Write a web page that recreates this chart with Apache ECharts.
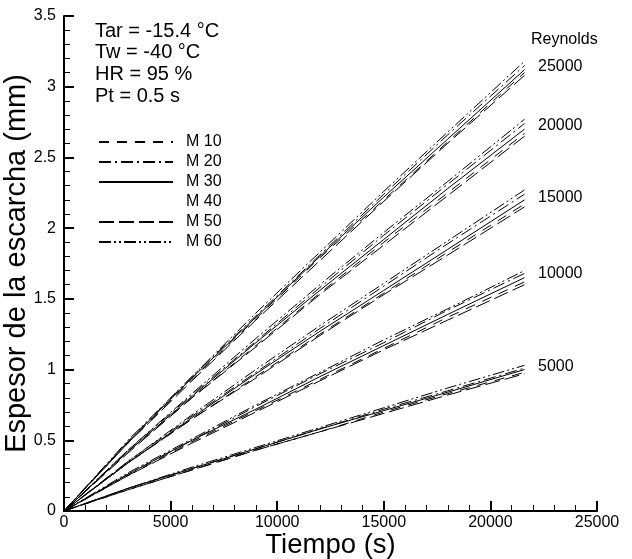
<!DOCTYPE html>
<html>
<head>
<meta charset="utf-8">
<script src="https://cdn.jsdelivr.net/npm/echarts@6/dist/echarts.min.js"></script>
<style>
  html, body { margin: 0; padding: 0; background: #fff; }
  #chart { width: 632px; height: 559px; }
</style>
</head>
<body>
<div id="chart"></div>
<script>
// Frost thickness (mm) versus time (s) for five Reynolds numbers and six M cases.
const times = [0, 3000, 6000, 9000, 12000, 15000, 18000, 21600];
const reynolds = ['5000', '10000', '15000', '20000', '25000'];
const mNames = ['M 10', 'M 20', 'M 30', 'M 40', 'M 50', 'M 60'];

// Each list holds one row per Reynolds number (5000 ... 25000).
const M10 = [
  [0, 0.15, 0.29, 0.43, 0.56, 0.70, 0.83, 0.98],
  [0, 0.25, 0.49, 0.71, 0.93, 1.15, 1.37, 1.62],
  [0, 0.34, 0.65, 0.95, 1.25, 1.54, 1.83, 2.17],
  [0, 0.42, 0.80, 1.17, 1.54, 1.90, 2.25, 2.67],
  [0, 0.48, 0.93, 1.36, 1.79, 2.20, 2.61, 3.10]
];
const M20 = [
  [0, 0.16, 0.30, 0.44, 0.58, 0.72, 0.85, 1.01],
  [0, 0.26, 0.50, 0.74, 0.97, 1.19, 1.42, 1.68],
  [0, 0.35, 0.67, 0.98, 1.29, 1.59, 1.89, 2.24],
  [0, 0.43, 0.82, 1.20, 1.58, 1.95, 2.31, 2.74],
  [0, 0.49, 0.95, 1.38, 1.81, 2.24, 2.66, 3.15]
];
const M30 = [
  [0, 0.16, 0.30, 0.44, 0.58, 0.71, 0.84, 1.00],
  [0, 0.26, 0.50, 0.72, 0.95, 1.17, 1.39, 1.65],
  [0, 0.34, 0.66, 0.97, 1.27, 1.56, 1.85, 2.20],
  [0, 0.42, 0.81, 1.19, 1.56, 1.92, 2.28, 2.70],
  [0, 0.49, 0.94, 1.37, 1.80, 2.22, 2.63, 3.12]
];
const M40 = [
  [0, 0.15, 0.30, 0.43, 0.57, 0.70, 0.83, 0.99],
  [0, 0.26, 0.49, 0.72, 0.94, 1.16, 1.38, 1.64],
  [0, 0.34, 0.66, 0.96, 1.26, 1.55, 1.85, 2.19],
  [0, 0.42, 0.81, 1.18, 1.55, 1.91, 2.27, 2.69],
  [0, 0.49, 0.93, 1.37, 1.79, 2.21, 2.62, 3.11]
];
const M50 = [
  [0, 0.15, 0.29, 0.43, 0.56, 0.69, 0.82, 0.97],
  [0, 0.25, 0.48, 0.70, 0.92, 1.14, 1.35, 1.60],
  [0, 0.34, 0.65, 0.94, 1.24, 1.53, 1.81, 2.15],
  [0, 0.41, 0.80, 1.16, 1.53, 1.88, 2.23, 2.65],
  [0, 0.48, 0.92, 1.35, 1.77, 2.19, 2.60, 3.08]
];
const M60 = [
  [0, 0.16, 0.31, 0.45, 0.59, 0.73, 0.87, 1.03],
  [0, 0.27, 0.51, 0.75, 0.98, 1.21, 1.43, 1.70],
  [0, 0.35, 0.68, 1.00, 1.31, 1.61, 1.91, 2.27],
  [0, 0.43, 0.83, 1.22, 1.60, 1.97, 2.33, 2.77],
  [0, 0.50, 0.95, 1.40, 1.83, 2.26, 2.68, 3.18]
];

const FONT = '"Liberation Sans", Arial, sans-serif';

// Dash pattern per case (M 40 carries no visible stroke)
const styles = {
  'M 10': { type: [10, 8], opacity: 1 },
  'M 20': { type: [12, 4, 2, 4], opacity: 1 },
  'M 30': { type: 'solid', opacity: 1 },
  'M 40': { type: 'solid', opacity: 0 },
  'M 50': { type: [15, 5], opacity: 1 },
  'M 60': { type: [12, 3, 2, 3, 2, 3], opacity: 1 }
};
const tables = { 'M 10': M10, 'M 20': M20, 'M 30': M30, 'M 40': M40, 'M 50': M50, 'M 60': M60 };

const series = [];
mNames.forEach(function (name) {
  tables[name].forEach(function (row) {
    series.push({
      type: 'line',
      name: name,
      data: row.map(function (v, i) { return [times[i], v]; }),
      symbol: 'none',
      showSymbol: false,
      silent: true,
      animation: false,
      itemStyle: { color: '#000', opacity: 0 },
      lineStyle: { color: '#000', width: 1, type: styles[name].type, opacity: styles[name].opacity }
    });
  });
});

// Reynolds labels sit just past the line ends
const reLabelY = { '25000': 68, '20000': 127, '15000': 199, '10000': 275, '5000': 368 };
const graphics = [
  { type: 'text', left: 531, top: 32, style: { text: 'Reynolds', font: '16px ' + FONT, fill: '#000' } }
];
reynolds.forEach(function (r) {
  graphics.push({ type: 'text', left: 538, top: reLabelY[r] - 9, style: { text: r, font: '16px ' + FONT, fill: '#000' } });
});
const conditions = ['Tar = -15.4 °C', 'Tw = -40 °C', 'HR = 95 %', 'Pt = 0.5 s'];
conditions.forEach(function (t, i) {
  graphics.push({ type: 'text', left: 95, top: 21 + i * 21.7, style: { text: t, font: '20px ' + FONT, fill: '#000' } });
});

const chart = echarts.init(document.getElementById('chart'), null, { renderer: 'canvas' });
chart.setOption({
  backgroundColor: '#fff',
  animation: false,
  grid: { left: 64, right: 35, top: 16, bottom: 48, containLabel: false, outerBoundsMode: 'none' },
  legend: {
    orient: 'vertical',
    left: 93,
    top: 129,
    itemWidth: 74,
    itemHeight: 14,
    itemGap: 4,
    selectedMode: false,
    itemStyle: { opacity: 0 },
    data: mNames.map(function (n) {
      return n === 'M 40'
        ? { name: n, lineStyle: { opacity: 0 }, itemStyle: { opacity: 0 } }
        : { name: n };
    }),
    textStyle: { fontFamily: FONT, fontSize: 16, color: '#000', padding: [0, 0, 0, 8], lineHeight: 14 }
  },
  xAxis: {
    type: 'value',
    min: 0,
    max: 25000,
    interval: 5000,
    name: 'Tiempo (s)',
    nameLocation: 'middle',
    nameGap: 20,
    nameMoveOverlap: false,
    nameTextStyle: { fontFamily: FONT, fontSize: 27.5, color: '#000' },
    axisLine: { show: true, lineStyle: { color: '#000', width: 2 } },
    axisTick: { show: true, inside: true, length: 10, lineStyle: { color: '#000', width: 2 } },
    minorTick: { show: true, splitNumber: 5, length: 6, lineStyle: { color: '#000', width: 1 } },
    axisLabel: { fontFamily: FONT, fontSize: 16, color: '#000', margin: 4, formatter: function (v) { return String(v); } },
    splitLine: { show: false }
  },
  yAxis: {
    type: 'value',
    min: 0,
    max: 3.5,
    interval: 0.5,
    name: 'Espesor de la escarcha (mm)',
    nameLocation: 'middle',
    nameGap: 33,
    nameMoveOverlap: false,
    nameTextStyle: { fontFamily: FONT, fontSize: 29, color: '#000' },
    axisLine: { show: true, lineStyle: { color: '#000', width: 2 } },
    axisTick: { show: true, inside: true, length: 10, lineStyle: { color: '#000', width: 2 } },
    minorTick: { show: true, splitNumber: 5, length: 6, lineStyle: { color: '#000', width: 1 } },
    axisLabel: { fontFamily: FONT, fontSize: 16, color: '#000', margin: 8, formatter: function (v) { return String(v); } },
    splitLine: { show: false }
  },
  graphic: graphics,
  series: series
});
</script>
</body>
</html>
